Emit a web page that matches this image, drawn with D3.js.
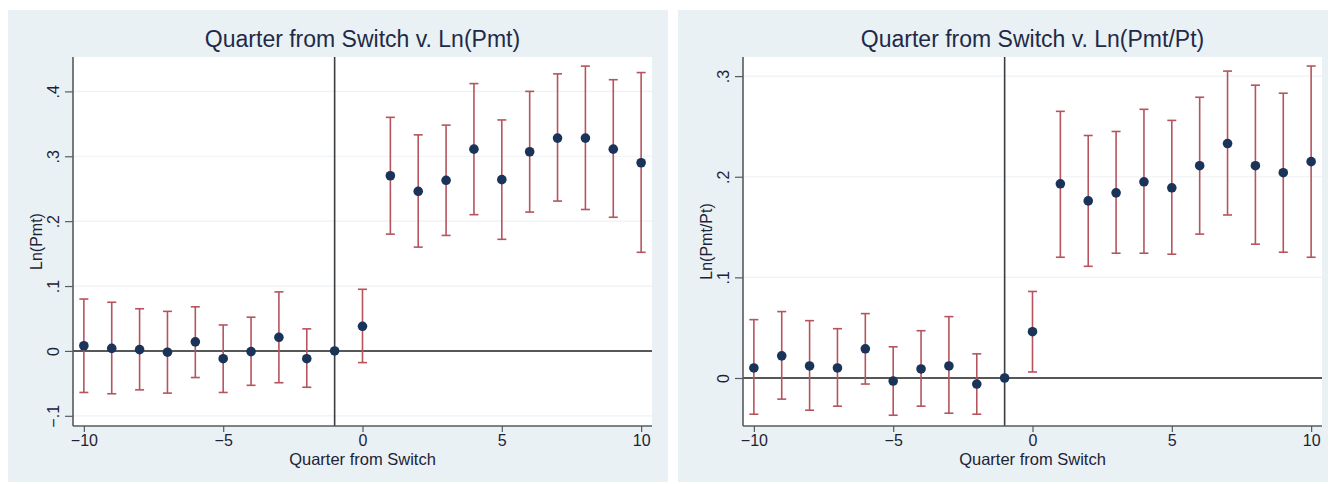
<!DOCTYPE html>
<html>
<head>
<meta charset="utf-8">
<script src="https://cdn.jsdelivr.net/npm/d3@7"></script>
<style>
  html, body { margin: 0; padding: 0; background: #ffffff; }
  svg { display: block; }
  text { font-family: "Liberation Sans", Arial, sans-serif; }
</style>
</head>
<body>
<svg id="chart" width="1330" height="484"></svg>
<script>
// Event-study estimates: quarters relative to the switch (quarter -1 is the omitted base)
const quarters = [-10, -9, -8, -7, -6, -5, -4, -3, -2, -1, 0, 1, 2, 3, 4, 5, 6, 7, 8, 9, 10];

// Ln(Pmt): coefficients and 95% confidence bounds
const pmtCoef  = [0.008, 0.004, 0.002, -0.002, 0.014, -0.012, -0.001, 0.021, -0.012, 0, 0.038, 0.270, 0.246, 0.263, 0.311, 0.264, 0.307, 0.328, 0.328, 0.311, 0.290];
const pmtLower = [-0.064, -0.066, -0.060, -0.065, -0.041, -0.064, -0.053, -0.049, -0.056, null, -0.018, 0.180, 0.160, 0.178, 0.210, 0.172, 0.214, 0.231, 0.218, 0.206, 0.152];
const pmtUpper = [0.080, 0.075, 0.065, 0.061, 0.068, 0.040, 0.052, 0.091, 0.034, null, 0.095, 0.360, 0.333, 0.348, 0.412, 0.356, 0.400, 0.427, 0.439, 0.418, 0.429];

// Ln(Pmt/Pt): coefficients and 95% confidence bounds
const ratioCoef  = [0.010, 0.022, 0.012, 0.010, 0.029, -0.003, 0.009, 0.012, -0.006, 0, 0.046, 0.193, 0.176, 0.184, 0.195, 0.189, 0.211, 0.233, 0.211, 0.204, 0.215];
const ratioLower = [-0.036, -0.021, -0.032, -0.028, -0.006, -0.037, -0.028, -0.035, -0.036, null, 0.006, 0.120, 0.111, 0.124, 0.124, 0.123, 0.143, 0.162, 0.133, 0.125, 0.120];
const ratioUpper = [0.058, 0.066, 0.057, 0.049, 0.064, 0.031, 0.047, 0.061, 0.024, null, 0.086, 0.265, 0.241, 0.245, 0.267, 0.256, 0.279, 0.305, 0.291, 0.283, 0.310];

// Axis ticks
const xTicks = [-10, -5, 0, 5, 10];
const pmtTicks = [-0.1, 0, 0.1, 0.2, 0.3, 0.4];
const ratioTicks = [0, 0.1, 0.2, 0.3];
const xTickLabels = ["\u221210", "\u22125", "0", "5", "10"];
const pmtTickLabels = ["\u2212.1", "0", ".1", ".2", ".3", ".4"];
const ratioTickLabels = ["0", ".1", ".2", ".3"];

const panelTitles = ["Quarter from Switch v. Ln(Pmt)", "Quarter from Switch v. Ln(Pmt/Pt)"];
const yTitles = ["Ln(Pmt)", "Ln(Pmt/Pt)"];
const xTitle = "Quarter from Switch";

const switchQuarter = -1;

const COLORS = {
  panel: "#e9f1f4",
  plot: "#ffffff",
  grid: "#edf2f4",
  axis: "#555b60",
  text: "#1e2236",
  title: "#1f2a48",
  bar: "#b5545d",
  dot: "#1a3358",
  ref: "#222222"
};

const svg = d3.select("#chart");

function drawPanel(cfg) {
  const g = svg.append("g").attr("transform", `translate(${cfg.left},10)`);
  const W = cfg.width, H = 472;
  const m = { left: 65, top: 47, right: W - 644, bottom: 56 };
  const pw = W - m.left - m.right, ph = H - m.top - m.bottom;

  g.append("rect").attr("width", W).attr("height", H).attr("fill", COLORS.panel);

  const x = d3.scaleLinear().domain([-10.39, 10.39]).range([0, pw]);
  const y = d3.scaleLinear().domain(cfg.yDomain).range([ph, 0]);

  const plot = g.append("g").attr("transform", `translate(${m.left},${m.top})`);
  plot.append("rect").attr("width", pw).attr("height", ph).attr("fill", COLORS.plot);

  // Horizontal grid lines
  plot.selectAll("line.grid").data(cfg.yTicks).join("line")
    .attr("class", "grid")
    .attr("x1", 0).attr("x2", pw)
    .attr("y1", d => y(d)).attr("y2", d => y(d))
    .attr("stroke", COLORS.grid).attr("stroke-width", 1.2);

  // Reference lines: zero effect and the switch quarter
  plot.append("line")
    .attr("x1", 0).attr("x2", pw).attr("y1", y(0)).attr("y2", y(0))
    .attr("stroke", COLORS.ref).attr("stroke-width", 1.6);
  plot.append("line")
    .attr("x1", x(switchQuarter)).attr("x2", x(switchQuarter)).attr("y1", 0).attr("y2", ph)
    .attr("stroke", "#3a3d40").attr("stroke-width", 1.6);

  // Axes
  const yAxis = d3.axisLeft(y).tickValues(cfg.yTicks)
    .tickFormat((d, i) => cfg.yTickLabels[i]).tickSize(8).tickPadding(4);
  const ya = plot.append("g").call(yAxis);
  ya.select(".domain").attr("stroke", COLORS.axis).attr("stroke-width", 1.6).attr("d", `M0,0V${ph}`);
  ya.selectAll(".tick line").attr("stroke", COLORS.axis).attr("stroke-width", 1.2);
  ya.selectAll(".tick text")
    .attr("fill", COLORS.text).attr("font-size", 16)
    .attr("text-anchor", "middle").attr("dy", null)
    .attr("x", null)
    .attr("transform", "translate(-14,0) rotate(-90)");

  const xAxis = d3.axisBottom(x).tickValues(xTicks)
    .tickFormat((d, i) => xTickLabels[i]).tickSize(6).tickPadding(3);
  const xa = plot.append("g").attr("transform", `translate(0,${ph})`).call(xAxis);
  xa.select(".domain").attr("stroke", COLORS.axis).attr("stroke-width", 1.6).attr("d", `M0,0H${pw}`);
  xa.selectAll(".tick line").attr("stroke", COLORS.axis).attr("stroke-width", 1.2);
  xa.selectAll(".tick text").attr("fill", COLORS.text).attr("font-size", 16);

  // Confidence intervals
  const rows = quarters.map((q, i) => ({ q, c: cfg.coef[i], lo: cfg.lower[i], hi: cfg.upper[i] }));
  const ci = rows.filter(d => d.lo !== null);
  const bars = plot.append("g").attr("stroke", COLORS.bar).attr("stroke-width", 1.6).attr("fill", "none");
  bars.selectAll("line.v").data(ci).join("line").attr("class", "v")
    .attr("x1", d => x(d.q)).attr("x2", d => x(d.q))
    .attr("y1", d => y(d.lo)).attr("y2", d => y(d.hi));
  bars.selectAll("line.lo").data(ci).join("line").attr("class", "lo")
    .attr("x1", d => x(d.q) - 4.5).attr("x2", d => x(d.q) + 4.5)
    .attr("y1", d => y(d.lo)).attr("y2", d => y(d.lo));
  bars.selectAll("line.hi").data(ci).join("line").attr("class", "hi")
    .attr("x1", d => x(d.q) - 4.5).attr("x2", d => x(d.q) + 4.5)
    .attr("y1", d => y(d.hi)).attr("y2", d => y(d.hi));

  // Point estimates
  plot.selectAll("circle.pt").data(rows).join("circle").attr("class", "pt")
    .attr("cx", d => x(d.q)).attr("cy", d => y(d.c)).attr("r", 4.8)
    .attr("fill", COLORS.dot);

  // Titles
  g.append("text").attr("x", m.left + pw / 2).attr("y", 37)
    .attr("text-anchor", "middle").attr("font-size", 23).attr("fill", COLORS.title)
    .text(cfg.title);
  g.append("text").attr("x", m.left + pw / 2).attr("y", 455)
    .attr("text-anchor", "middle").attr("font-size", 16.5).attr("fill", COLORS.text)
    .text(xTitle);
  g.append("text")
    .attr("transform", `translate(${cfg.yTitleX},${m.top + ph / 2}) rotate(-90)`)
    .attr("text-anchor", "middle").attr("font-size", 16).attr("fill", COLORS.text)
    .text(cfg.yTitle);
}

drawPanel({
  left: 8, width: 660, title: panelTitles[0], yTitle: yTitles[0], yTitleX: 34,
  yDomain: [-0.1157, 0.453], yTicks: pmtTicks, yTickLabels: pmtTickLabels,
  coef: pmtCoef, lower: pmtLower, upper: pmtUpper
});
drawPanel({
  left: 678, width: 650, title: panelTitles[1], yTitle: yTitles[1], yTitleX: 34,
  yDomain: [-0.0477, 0.319], yTicks: ratioTicks, yTickLabels: ratioTickLabels,
  coef: ratioCoef, lower: ratioLower, upper: ratioUpper
});
</script>
</body>
</html>
